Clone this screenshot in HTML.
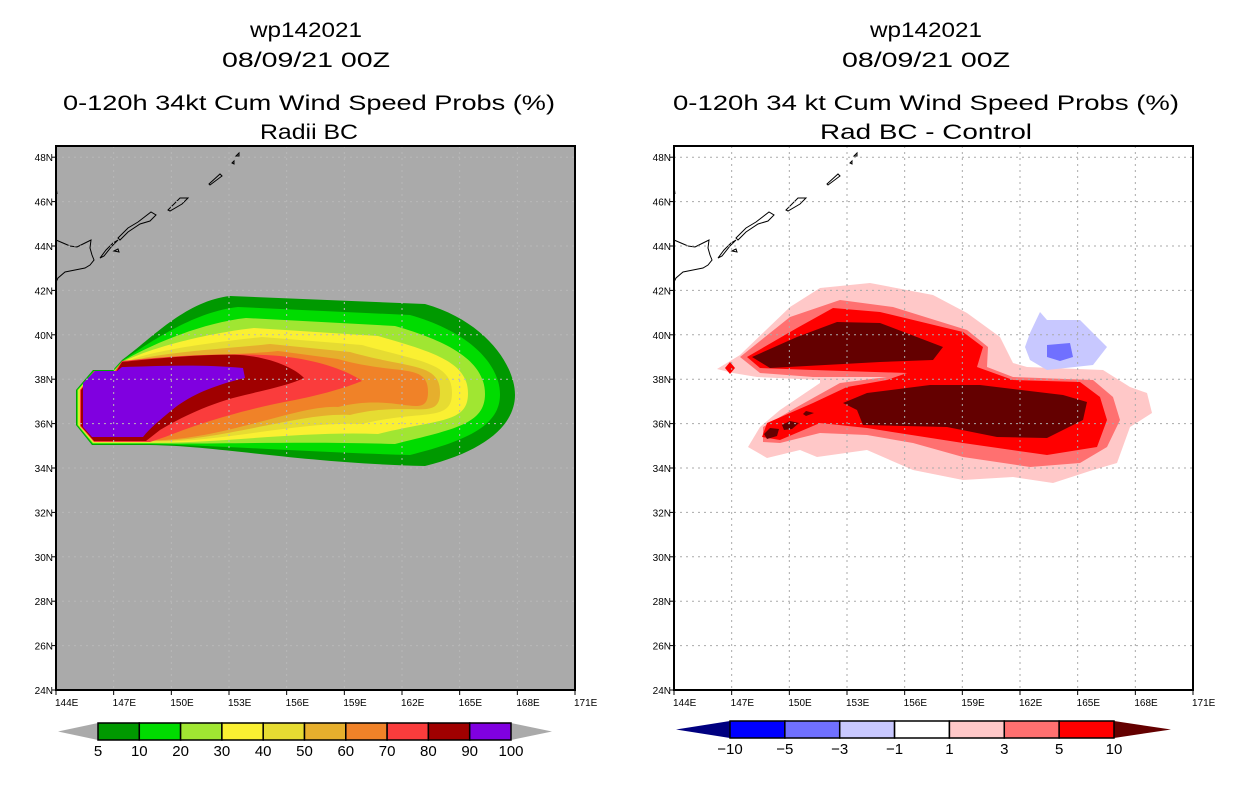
<!DOCTYPE html>
<html><head><meta charset="utf-8"><style>
html,body{margin:0;padding:0;background:#fff;}
svg{display:block;font-family:"Liberation Sans",sans-serif;}
</style></head><body>
<svg id="root" width="1236" height="800" viewBox="0 0 1236 800" xmlns="http://www.w3.org/2000/svg">
<g font-size="21" text-anchor="middle" fill="#000">
<text x="306" y="37" textLength="112" lengthAdjust="spacingAndGlyphs">wp142021</text>
<text x="306" y="67" textLength="168" lengthAdjust="spacingAndGlyphs">08/09/21 00Z</text>
<text x="309" y="110" textLength="492" lengthAdjust="spacingAndGlyphs">0-120h 34kt Cum Wind Speed Probs (%)</text>
<text x="309" y="139" textLength="98" lengthAdjust="spacingAndGlyphs">Radii BC</text>
</g>
<g font-size="21" text-anchor="middle" fill="#000">
<text x="926" y="37" textLength="112" lengthAdjust="spacingAndGlyphs">wp142021</text>
<text x="926" y="67" textLength="168" lengthAdjust="spacingAndGlyphs">08/09/21 00Z</text>
<text x="926" y="110" textLength="506" lengthAdjust="spacingAndGlyphs">0-120h 34 kt Cum Wind Speed Probs (%)</text>
<text x="926" y="139" textLength="212" lengthAdjust="spacingAndGlyphs">Rad BC - Control</text>
</g>

<g id="leftPanel">
<rect x="56" y="146" width="519" height="544" fill="#aaaaaa"/>
<g id="leftFill"></g>
<path fill="#fa3c3c" d="M140,442 L94,442 L80,426 L80,390 L94,371 L115,371 L122,361 C170,356 230,352 280,356 C320,360 350,372 362,381 C345,388 320,395 295,400 C240,410 195,425 165,437 L150,442 Z"/>
<path fill="#a00000" d="M140,441 L94,441 L81,426 L81,390 L95,372 L116,372 L122,362 C170,357 210,354 240,355 C270,357 295,368 304,378 C290,385 265,390 245,395 C210,403 180,418 160,430 L146,441 Z"/>
<path fill="#8000e0" d="M83,383 L95,371 L117,371 L122,367 C160,366 200,364 243,368 L245,378 C215,385 190,395 172,410 C160,420 150,428 143,437 L92,437 L83,427 Z"/>
</g>

<g id="rightPanel">
<rect x="674" y="146" width="519" height="544" fill="#ffffff"/>
<path fill="#ffc8c8" d="M717,369 L740,355 L790,307 L820,288 L870,283 L933,295 L967,313 L1000,337 L1013,363 L1027,367 L1103,370 L1130,387 L1147,393 L1152,413 L1130,427 L1117,463 L1093,470 L1053,483 L1013,477 L963,480 L913,470 L867,450 L817,457 L800,450 L767,458 L748,447 L760,427 L780,410 L820,383 L820,380 L757,377 L733,373 Z"/>
<path fill="#ff7070" d="M740,357 L790,317 L840,300 L893,307 L967,330 L988,347 L987,367 L1013,377 L1093,380 L1113,397 L1120,420 L1107,447 L1080,463 L1030,467 L963,457 L913,443 L867,435 L820,433 L780,443 L763,442 L763,427 L797,407 L840,383 L887,377 L813,377 L760,373 Z"/>
<path fill="#ff0000" d="M747,357 L797,328 L833,308 L880,312 L963,332 L983,347 L977,367 L1013,380 L1080,382 L1100,397 L1107,420 L1097,447 L1047,455 L963,443 L867,428 L820,423 L780,440 L762,437 L767,423 L813,403 L847,387 L887,380 L907,373 L813,370 L760,368 Z"/>
<path fill="#640000" d="M752,357 L797,337 L837,322 L880,323 L943,347 L933,360 L880,362 L770,368 Z"/>
<path fill="#640000" d="M843,403 L867,393 L930,385 L980,385 L1063,395 L1087,402 L1083,420 L1047,438 L997,437 L947,427 L863,425 L857,410 Z"/>
<path fill="#640000" d="M764,434 L770,428 L779,429 L777,436 L767,439 Z"/>
<path fill="#640000" d="M782,425 L790,421 L799,423 L792,429 L784,430 Z"/>
<path fill="#640000" d="M803,414 L806,411 L814,413 L806,416 Z"/>
<path fill="#ff0000" d="M730,362 L735,368 L730,374 L725,368 Z"/>
<path fill="#c8c8ff" d="M1040,312 L1047,320 L1080,320 L1107,347 L1093,365 L1047,370 L1030,360 L1025,347 L1030,333 Z"/>
<path fill="#7070ff" d="M1047,345 L1070,343 L1073,357 L1060,361 L1047,357 Z"/>
</g>
<g id="overlay"></g>
</svg>
<script>
const lonTicks = [144,147,150,153,156,159,162,165,168,171];
const latTicks = [24,26,28,30,32,34,36,38,40,42,44,46,48];
const probLevels = ["5","10","20","30","40","50","60","70","80","90","100"];
const probColors = ["#009900","#00dc00","#a0e632","#faf032","#e6dc32","#e6af2d","#f08228","#fa3c3c","#a00000","#8000e0"];
const diffLevels = ["-10","-5","-3","-1","1","3","5","10"];
const diffColors = ["#0000ff","#7070ff","#c8c8ff","#ffffff","#ffc8c8","#ff7070","#ff0000"];
const NS="http://www.w3.org/2000/svg";
const svg=document.getElementById('root');
function el(tag,attrs,parent){const e=document.createElementNS(NS,tag);for(const k in attrs)e.setAttribute(k,attrs[k]);(parent||svg).appendChild(e);return e;}
const X0L=56,X0R=674,W=519,YB=690,YT=146;
function xs(lon,x0){return x0+(lon-144)*W/27;}
function ys(lat){return YB-(lat-24)*22.2;}

const bandTop=[296,307,318,328,337,344,351];
const bandBot=[466,455,444,434,424,415,407];
const bandRight=[515,500,485,468,452,440,428];
const lf=document.getElementById('leftFill');
for(let i=0;i<7;i++){
  const d=i*0.8,t=bandTop[i],b=bandBot[i],r=bandRight[i],cy=395-i*0.5,s=230+i*8;
  const p=`M140,${445-d} L${92+d/2},${445-d} L${76+d},425 L${76+d},390 L${93+d/2},${370+d} L113,${370+d} L122,${360+d} C150,${340+i*2.5} ${s-45},${t+5} ${s},${t} L${r-90},${t+8} C${r-30},${t+25} ${r},${cy-30} ${r},${cy} C${r},${cy+30} ${r-30},${b-15} ${r-90},${b} C300,${b-3} 220,${446-d} 150,${445-d} Z`;
  const e=el('path',{d:p,fill:probColors[i]},lf);
  
  
}
const ov=document.getElementById('overlay');
const coast=["M56,240 L63,243 L70,246 L77,247 L85,243 L91,240 L90,248 L92,255 L94,260 L90,265 L85,268 L75,270 L65,272 L58,278 L56,282",
"M100,258 L106,250 L113,243 L118,240 L112,246 L104,256 Z","M118,238 L128,228 L138,222 L151,212 L156,215 L150,221 L140,224 L128,232 L120,240 Z",
"M168,210 L180,198 L188,198 L182,204 L170,211 Z","M209,184 L220,174 L222,176 L210,185 Z","M232,163 L234,161 L234,164 Z","M236,156 L239,153 L239,156 Z","M56,186 L57,194","M114,251 L118,249 L119,252 Z"];
[0,618].forEach((dx,pi)=>{
  const g=el('g',{transform:`translate(${dx},0)`,fill:'none',stroke:'#000','stroke-width':1},ov);
  
  
  coast.forEach(d=>el('path',{d:d},g));
});
[X0L,X0R].forEach((x0,pi)=>{
  const g=el('g',{stroke:pi?'#aaaaaa':'#b8b8b8','stroke-width':1,'stroke-dasharray':'2,4'},ov);
  
  
  lonTicks.forEach(l=>{if(l>144&&l<171){const x=xs(l,x0);el('line',{x1:x,x2:x,y1:YT,y2:YB},g);}});
  latTicks.forEach(l=>{if(l>24){const y=ys(l);el('line',{x1:x0,x2:x0+W,y1:y,y2:y},g);}});
  const f=el('rect',{x:x0,y:YT,width:W,height:YB-YT,fill:'none',stroke:'#000','stroke-width':2},ov);
  
  
  lonTicks.forEach(l=>{const x=xs(l,x0);el('line',{x1:x,x2:x,y1:YB,y2:YB+5,stroke:'#000'},ov);
    const t=el('text',{x:x-1,y:YB+16,'font-size':10,fill:'#000'},ov);t.textContent=l+'E';
    
    });
  latTicks.forEach(l=>{const y=ys(l);el('line',{x1:x0-4,x2:x0,y1:y,y2:y,stroke:'#000'},ov);
    const t=el('text',{x:x0-3,y:y+4,'font-size':10,'text-anchor':'end',fill:'#000'},ov);t.textContent=l+'N';
    
    });
});
function colorbar(name,x0,x1,triL,triR,y0,y1,colors,levels,lc,rc){
  const g=el('g',{},ov);
  
  
  const cy=(y0+y1)/2,bw=(x1-x0)/colors.length;
  el('path',{d:`M${x0},${y0} L${triL},${cy} L${x0},${y1} Z`,fill:lc},g);
  el('path',{d:`M${x1},${y0} L${triR},${cy} L${x1},${y1} Z`,fill:rc},g);
  colors.forEach((c,i)=>{const r=el('rect',{x:x0+i*bw,y:y0,width:bw,height:y1-y0,fill:c,stroke:'#000','stroke-width':1.5},g);
    
    });
  levels.forEach((l,i)=>{const t=el('text',{x:x0+i*bw,y:y1+16,'font-size':15,'text-anchor':'middle',fill:'#000'},g);t.textContent=l.replace('-','\u2212');
    
    });
}
colorbar('left-colorbar',98,511,58,552,723,740,probColors,probLevels,'#aaaaaa','#aaaaaa');
colorbar('right-colorbar',730,1114,676,1171,721,738,diffColors,diffLevels,'#000080','#640000');
</script>
</body></html>
